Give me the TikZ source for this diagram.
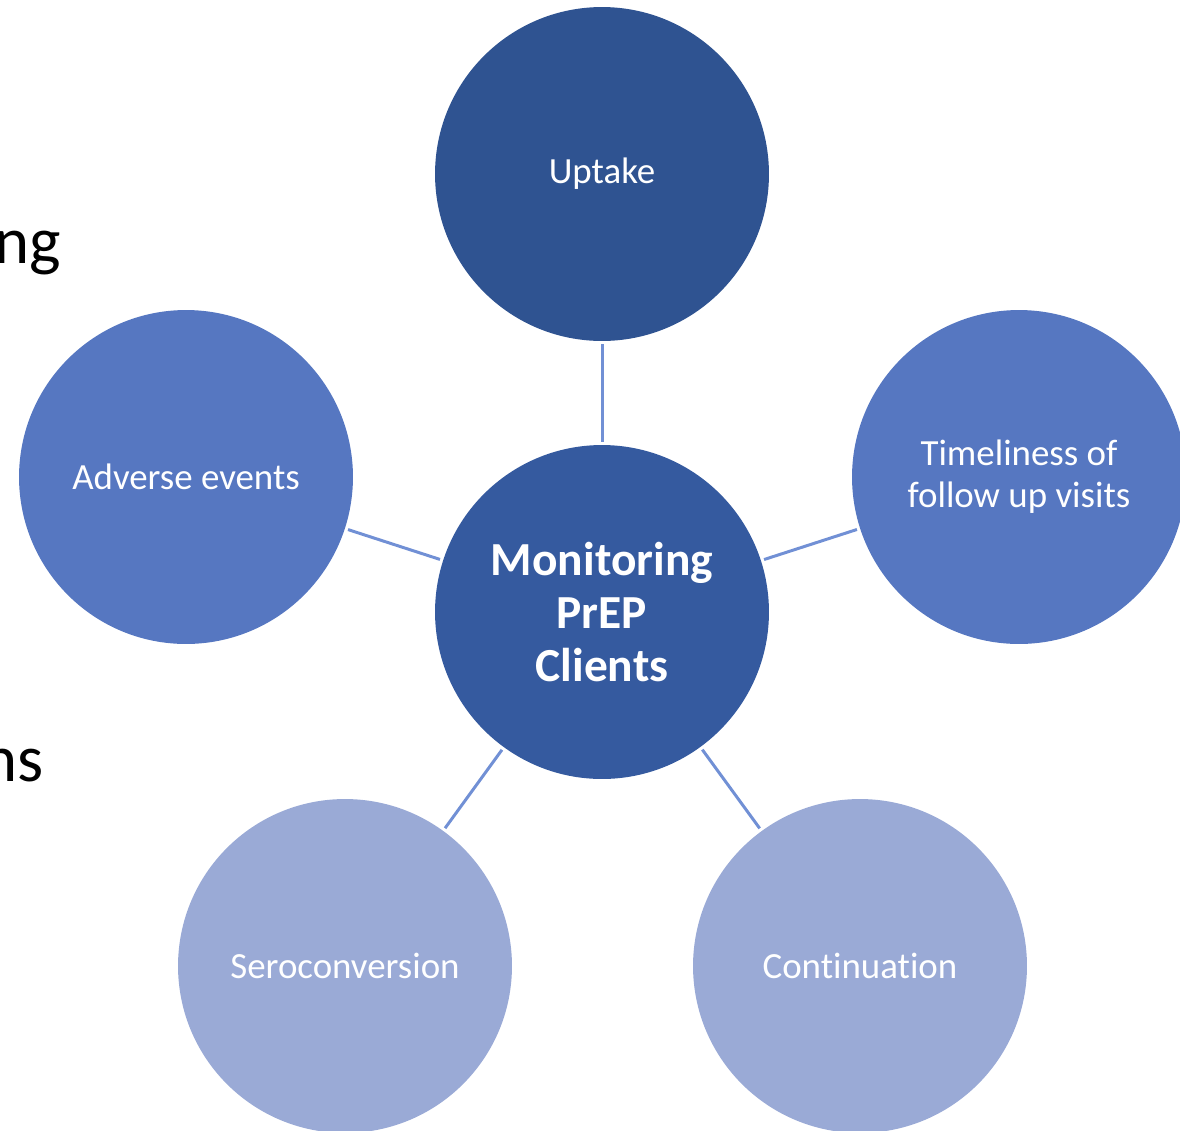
\documentclass[tikz,border=0pt]{standalone}
\usepackage{fontspec}
\setmainfont[Ligatures=NoCommon]{Carlito}
\definecolor{uptakeblue}{HTML}{2F5391}
\definecolor{hubblue}{HTML}{355A9F}
\definecolor{sideblue}{HTML}{5677C1}
\definecolor{lowblue}{HTML}{9AAAD6}
\definecolor{linkblue}{HTML}{7190D5}
\tikzset{
  topic/.style={circle,minimum size=6.68cm,inner sep=0pt,text=white,align=center,
    font=\fontsize{21}{24}\selectfont},
  hub/.style={topic,fill=hubblue,font=\fontsize{27}{30}\selectfont\bfseries},
  link/.style={draw=linkblue,line width=1.7pt,shorten >=0.06cm,shorten <=0.06cm},
  slidetext/.style={anchor=base east,inner sep=0pt,font=\fontsize{38}{46}\selectfont}
}
\begin{document}
\begin{tikzpicture}[x=0.02cm,y=-0.02cm]
\useasboundingbox (0,0) rectangle (1180,1130);
\clip (0,0) rectangle (1180,1130);
% text of the slide behind
\node[slidetext] (frag1) at (61,263) {ng};
\node[slidetext] (frag2) at (44,781) {ns};

\node[hub] (hub) at (602,612) {Monitoring\\PrEP\\Clients};
\node[topic,fill=uptakeblue] (uptake) at (602,174) {Uptake};
\node[topic,fill=sideblue] (adverse) at (186,477) {Adverse events};
\node[topic,fill=sideblue] (timely) at (1019,477) {Timeliness of\\follow up visits};
\node[topic,fill=lowblue] (sero) at (345,966) {Seroconversion};
\node[topic,fill=lowblue] (cont) at (860,966) {Continuation};

\draw[link] (hub) -- (uptake);
\draw[link] (hub) -- (adverse);
\draw[link] (hub) -- (timely);
\draw[link] (hub) -- (sero);
\draw[link] (hub) -- (cont);
\end{tikzpicture}
\end{document}
